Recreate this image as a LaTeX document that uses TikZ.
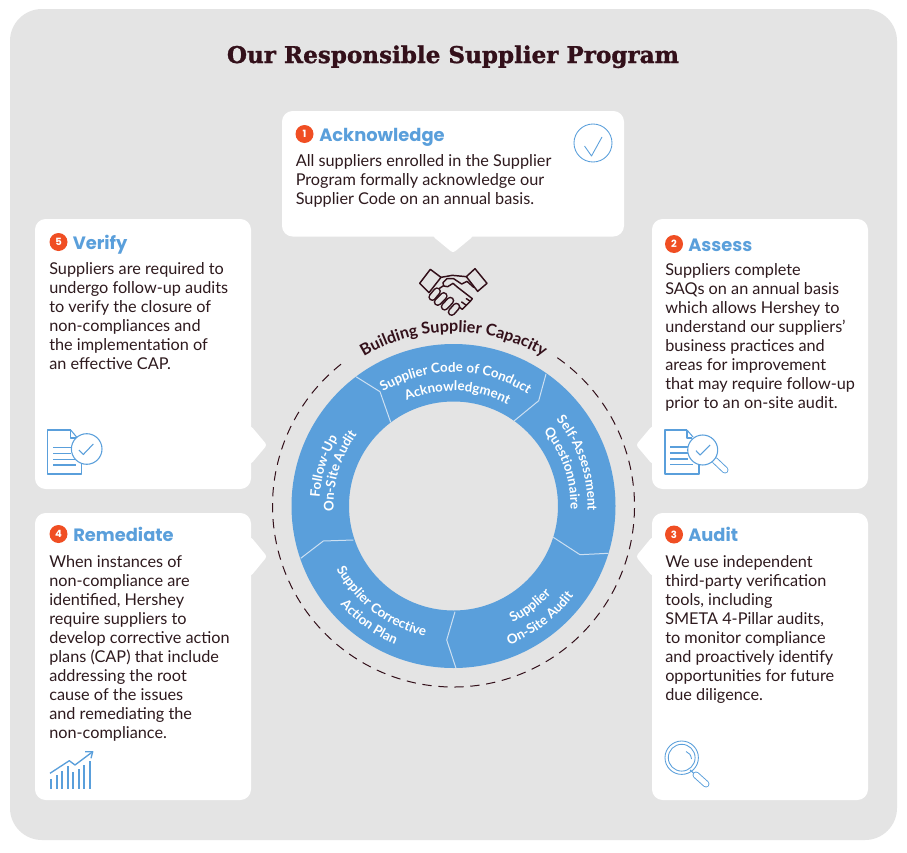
\documentclass[tikz,border=0pt]{standalone}
\usepackage{fontspec}
\usetikzlibrary{decorations.text}
\setmainfont{Lato}
\newfontfamily\titlef[BoldFeatures={FakeBold=1.2}]{DejaVu Serif}
\newfontfamily\headf{Poppins}
\definecolor{panel}{HTML}{E4E4E4}
\definecolor{ink}{HTML}{2E1A1E}
\definecolor{maroon}{HTML}{33101A}
\definecolor{sky}{HTML}{5A9FDB}
\definecolor{flame}{HTML}{F04E23}
\definecolor{seam}{HTML}{CDE0F2}
\newcommand{\arclabel}[6][white]{\path[decorate,decoration={text along path,text align=center,text={|\color{#1}\fontsize{#6}{#6}\selectfont\bfseries|#5}}] (#2:#4) arc[start angle=#2,end angle=#3,radius=#4];}
\tikzset{
  card/.style={fill=white,rounded corners=8},
  tip/.style={fill=white,rounded corners=2},
  seamline/.style={seam,line width=0.75pt,line join=round},
  bodytext/.style={anchor=north west,inner sep=0pt,align=left,text=ink,font=\fontsize{12.2}{14.25}\selectfont},
  headtext/.style={anchor=base west,inner sep=0pt,text=sky,font=\headf\bfseries\fontsize{13.4}{16}\selectfont},
  badge/.style={circle,fill=flame,text=white,inner sep=0pt,minimum size=13.5pt,font=\headf\bfseries\fontsize{7.5}{8}\selectfont},
  icon/.style={draw=sky,line width=0.8pt,line join=round},
  thinicon/.style={draw=sky,line width=0.65pt,line join=round},
  shake/.style={draw=maroon,line width=1.1pt,line join=round,line cap=round},
}
\begin{document}
\begin{tikzpicture}[x=0.75pt,y=-0.75pt]
\useasboundingbox (0,0) rectangle (907,853);
\fill[white] (0,0) rectangle (907,853);
\fill[panel,rounded corners=24pt] (10,9) rectangle (897,840);
\node[inner sep=0pt,anchor=base,text=maroon,font=\titlef\bfseries\fontsize{17.3}{20}\selectfont] (title) at (453,63) {Our Responsible Supplier Program};

% cards
\fill[card] (282,111) rectangle (624,236.5);
\fill[tip] (473,230) -- (473,236.5) -- (453,253) -- (433,236.5) -- (433,230) -- cycle;
\fill[card] (35,219) rectangle (251,489);
\fill[tip] (245,426) -- (251,426) -- (267,445) -- (251,464) -- (245,464) -- cycle;
\fill[card] (35,513) rectangle (251,800);
\fill[tip] (245,537) -- (251,537) -- (267,556.5) -- (251,576) -- (245,576) -- cycle;
\fill[card] (652,219) rectangle (868,489);
\fill[tip] (658,426) -- (652,426) -- (636,445) -- (652,464) -- (658,464) -- cycle;
\fill[card] (652,513) rectangle (868,800);
\fill[tip] (658,537) -- (652,537) -- (636,556.5) -- (652,576) -- (658,576) -- cycle;

% headings
\node[badge] (b1) at (304.5,134) {1};
\node[headtext] (h1) at (319,141) {Acknowledge};
\node[bodytext] (t1) at (295.5,154.5) {All suppliers enrolled in the Supplier\\Program formally acknowledge our\\Supplier Code on an annual basis.};
\node[badge] (b5) at (58.5,242) {5};
\node[headtext] (h5) at (72.5,249) {Verify};
\node[bodytext] (t5) at (49,262.5) {Suppliers are required to\\undergo follow-up audits\\to verify the closure of\\non-compliances and\\the implementation of\\an effective CAP.};
\node[badge] (b2) at (674,244) {2};
\node[headtext] (h2) at (688,251) {Assess};
\node[bodytext] (t2) at (665,263.5) {Suppliers complete\\SAQs on an annual basis\\which allows Hershey to\\understand our suppliers’\\business practices and\\areas for improvement\\that may require follow-up\\prior to an on-site audit.};
\node[badge] (b3) at (674,534.5) {3};
\node[headtext] (h3) at (688,541) {Audit};
\node[bodytext] (t3) at (665,555.5) {We use independent\\third-party verification\\tools, including\\SMETA 4-Pillar audits,\\to monitor compliance\\and proactively identify\\opportunities for future\\due diligence.};
\node[badge] (b4) at (58.5,534) {4};
\node[headtext] (h4) at (73,541) {Remediate};
\node[bodytext] (t4) at (49,555.5) {When instances of\\non-compliance are\\identified, Hershey\\require suppliers to\\develop corrective action\\plans (CAP) that include\\addressing the root\\cause of the issues\\and remediating the\\non-compliance.};

% ring
\fill[sky,even odd rule] (453.5,506) circle[radius=162] (453.5,506) circle[radius=104.5];
\draw[seamline] (356,376.7) -- (380,391.7) -- (390.7,422.3);
\draw[seamline] (546,374) -- (538.7,400.7) -- (514,421);
\draw[seamline] (553.3,537.3) -- (580,554.7) -- (608.3,553.3);
\draw[seamline] (455,611.7) -- (446.7,640) -- (456,668.3);
\draw[seamline] (300.7,558.3) -- (323.3,541) -- (353.3,540);

\begin{scope}[shift={(453.5,506)},yscale=-1]
\draw[maroon,line width=0.75pt,dash pattern=on 7pt off 5pt] (55:181) arc[start angle=55,end angle=-232,radius=181];
\arclabel[maroon]{150}{30}{174}{Building Supplier Capacity}{12.1}
\arclabel{149}{29}{134}{Supplier Code of Conduct}{10}
\arclabel{148}{28}{115}{Acknowledgment}{10}
\arclabel{79}{-41}{134}{Self-Assessment}{10}
\arclabel{79}{-41}{117}{Questionnaire}{10}
\arclabel{-112}{7}{131}{Supplier}{10}
\arclabel{-112}{7}{150}{On-Site Audit}{10}
\arclabel{173}{293}{133}{Supplier Corrective}{10}
\arclabel{174}{294}{150}{Action Plan}{10}
\arclabel{223}{103}{134}{Follow-Up}{10}
\arclabel{223}{103}{120}{On-Site Audit}{10}
\end{scope}

% handshake
\begin{scope}[shift={(413,262)},scale=0.3333]
\draw[shake] (52,22) -- (84,46) -- (48,92) -- (20,64) -- cycle;
\draw[shake] (186,20) -- (222,64) -- (194,88) -- (160,44) -- cycle;
\draw[shake] (84,46) -- (118,40) -- (160,44);
\draw[shake] (72,84) -- (90,72);
\draw[shake] (182,76) -- (162,58) -- (146,66) -- (122,50) -- (102,50) -- (90,62) -- (92,72) -- (104,74) -- (120,64) -- (134,76) -- (178,110);
\draw[shake] (178,110) -- (172,118) -- (160,110);
\draw[shake] (172,118) -- (160,130) -- (146,120);
\draw[shake] (160,130) -- (148,142) -- (134,132);
\foreach \a/\b/\c/\d in {58/105/72/88,74/120/92/102,95/134/112/116,116/150/130/134}{
  \draw[maroon,line width=6pt,line cap=round] (\a,\b) -- (\c,\d);
  \draw[panel,line width=3.6pt,line cap=round] (\a,\b) -- (\c,\d);
}
\end{scope}

% check circle icon
\draw[thinicon] (593,143) circle[radius=19];
\draw[thinicon] (584.5,146) -- (591.5,156) -- (602,137);

% verify icon
\draw[icon] (70.7,430) -- (47.7,430) -- (47.7,474) -- (81.7,474) -- (81.7,462);
\draw[icon] (70.7,430) -- (77,437.5);
\draw[icon] (70.7,430) -- (70.7,438) -- (76,438);
\foreach \y/\e in {447.3/71,453.3/71,459.3/76,465/76}{\draw[icon] (53.3,\y) -- (\e,\y);}
\draw[icon,fill=white] (86.7,449) circle[radius=15.3];
\draw[icon] (79,450) -- (83.3,454.5) -- (93.3,444);

% assess icon
\draw[icon] (687,430) -- (665,430) -- (665,474) -- (699,474) -- (699,465);
\draw[icon] (687,430) -- (693,437);
\draw[icon] (687,430) -- (687,438) -- (692,438);
\foreach \y/\e in {447/688,453/688,459/688,464.5/693}{\draw[icon] (670,\y) -- (\e,\y);}
\draw[sky,line width=5.2pt,line cap=round] (715,460.5) -- (725,470);
\draw[white,line width=3.8pt,line cap=round] (715,460.5) -- (725,470);
\draw[icon] (712,461) -- (714,459);
\draw[icon,fill=white] (702.7,450) circle[radius=15];
\draw[icon] (696,450.7) -- (700,455) -- (710,445);

% remediate icon
\foreach \x/\t in {50.7/779.3,56.7/775,62/771,67.7/766,73.3/772.3,79/769.3,84.3/765,90/761}{\draw[sky,line width=1.4pt] (\x,\t) -- (\x,788.7);}
\draw[icon,line width=1pt] (50,773.3) -- (69.3,760.7) -- (75,765) -- (92.7,751.7);
\draw[icon,line width=1pt] (85,751.7) -- (92.7,751.7) -- (91,758.3);

% audit icon
\draw[thinicon] (681.7,757.7) circle[radius=16.7];
\draw[thinicon] (681.7,757.7) circle[radius=13.4];
\draw[thinicon] (686,751.5) .. controls (689,752.5) and (691,755) .. (691.5,759);
\draw[icon] (693.5,773) -- (690,770);
\draw[sky,line width=5.2pt,line cap=round] (696,775) -- (706,784);
\draw[white,line width=3.8pt,line cap=round] (696,775) -- (706,784);
\end{tikzpicture}
\end{document}
